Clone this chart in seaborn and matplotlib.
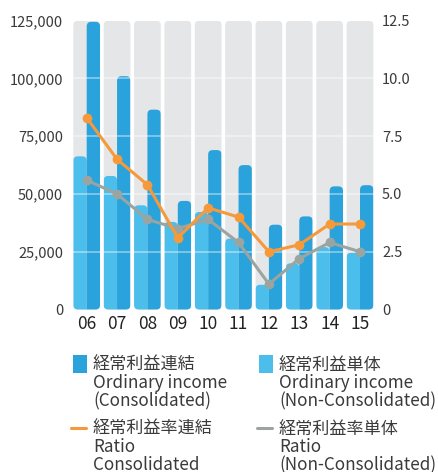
import numpy as np
import pandas as pd
import matplotlib
matplotlib.use("Agg")
import matplotlib.pyplot as plt
from matplotlib.patches import FancyBboxPatch, Rectangle
from matplotlib.lines import Line2D
import seaborn as sns

# データ
years = ["06", "07", "08", "09", "10", "11", "12", "13", "14", "15"]
income_consol = [124500, 101000, 86500, 47000, 69000, 62500, 36700, 40300, 53300, 53800]
income_single = [66300, 57800, 45100, 37900, 42200, 30700, 10700, 20000, 27000, 24600]
ratio_consol = [8.3, 6.5, 5.4, 3.1, 4.4, 4.0, 2.5, 2.8, 3.7, 3.7]
ratio_single = [5.6, 5.0, 3.9, 3.5, 3.9, 2.9, 1.1, 2.2, 2.9, 2.5]
y_max = 125000
r_max = 12.5

c_dark = "#2aa2db"
c_light = "#4bbeeb"
c_bg = "#e5e6e8"
c_orange = "#f5993a"
c_gray = "#9aa5a1"
c_text = "#3a3a3a"

sns.set_style("white")
plt.rcParams["font.family"] = ["Noto Sans CJK JP", "DejaVu Sans"]

W, H = 4.39, 4.72
fig = plt.figure(figsize=(W, H), dpi=100)
ax_pos = [71.5 / 439, 162.5 / 472, 303.7 / 439, 288.8 / 472]
ax = fig.add_axes(ax_pos)

df_bg = pd.DataFrame({"year": years, "value": [y_max] * len(years)})
sns.barplot(data=df_bg, x="year", y="value", color=c_bg, width=0.88,
            saturation=1, ax=ax)
n_bg = len(ax.patches)

df_bar = pd.DataFrame({
    "year": years * 2,
    "value": income_single + income_consol,
    "kind": ["single"] * len(years) + ["consol"] * len(years),
})
sns.barplot(data=df_bar, x="year", y="value", hue="kind",
            hue_order=["single", "consol"],
            palette={"single": c_light, "consol": c_dark},
            width=0.88, saturation=1, legend=False, ax=ax)

ax.set_xlim(-0.5, len(years) - 0.5)
ax.set_ylim(0, y_max)

# 角丸に置き換え
px_x = ax_pos[2] * W * 100 / len(years)     # 1 x-unit in px
px_y = ax_pos[3] * H * 100 / y_max          # 1 y-unit in px
radius_px = 4.5
r_x = radius_px / px_x
aspect = (radius_px / px_y) / r_x

old = list(ax.patches)
bg_patches = {}
for k, p in enumerate(old):
    x, y = p.get_xy()
    w, h = p.get_width(), p.get_height()
    fc = p.get_facecolor()
    p.remove()
    idx = int(round(x + w / 2))
    if k < n_bg:
        fb = FancyBboxPatch((x, y), w, h,
                            boxstyle=f"round,pad=0,rounding_size={r_x}",
                            mutation_aspect=aspect, fc=fc, ec="none", zorder=1)
        ax.add_patch(fb)
        bg_patches[idx] = fb
    else:
        ext = y_max * 0.05
        fb = FancyBboxPatch((x, y - ext), w, h + ext,
                            boxstyle=f"round,pad=0,rounding_size={r_x}",
                            mutation_aspect=aspect, fc=fc, ec="none", zorder=1.5)
        ax.add_patch(fb)
        fb.set_clip_path(bg_patches[idx])

for v in range(25000, y_max, 25000):
    ax.axhline(v, color="white", lw=1.2, alpha=0.45, zorder=2)

ax.set_yticks(range(0, y_max + 1, 25000))
ax.set_yticklabels([f"{v:,}" for v in range(0, y_max + 1, 25000)],
                   fontsize=10.5, color=c_text)
ax.set_xticks(range(len(years)))
ax.set_xticklabels(years, fontsize=12.5, color="#222222")
ax.tick_params(axis="both", length=0)
ax.tick_params(axis="y", pad=6)
ax.tick_params(axis="x", pad=4)
ax.set_xlabel("")
ax.set_ylabel("")
for s in ax.spines.values():
    s.set_visible(False)

# 比率（右軸）
ax2 = ax.twinx()
xpos = np.arange(len(years))
sns.lineplot(x=xpos, y=ratio_single, color=c_gray, lw=2.2, marker="o",
             markersize=7, markeredgewidth=0, ax=ax2, zorder=3)
sns.lineplot(x=xpos, y=ratio_consol, color=c_orange, lw=2.2, marker="o",
             markersize=7, markeredgewidth=0, ax=ax2, zorder=4)
ax2.set_ylim(0, r_max)
ax2.set_xlim(-0.5, len(years) - 0.5)
r_ticks = [0, 2.5, 5.0, 7.5, 10.0, 12.5]
ax2.set_yticks(r_ticks)
ax2.set_yticklabels(["0"] + [f"{t:.1f}" for t in r_ticks[1:]],
                    fontsize=10.5, color=c_text)
ax2.tick_params(axis="y", length=0, pad=5)
for s in ax2.spines.values():
    s.set_visible(False)

# 凡例
def fx(px):
    return px / 439

def fy(py):
    return 1 - py / 472

legend_items = [
    ("box", c_dark, 73, 93, 356,
     ["経常利益連結", "Ordinary income", "(Consolidated)"]),
    ("box", c_light, 259, 279, 356,
     ["経常利益単体", "Ordinary income", "(Non-Consolidated)"]),
    ("line", c_orange, 71, 93, 420,
     ["経常利益率連結", "Ratio", "Consolidated"]),
    ("line", c_gray, 257, 279, 420,
     ["経常利益率単体", "Ratio", "(Non-Consolidated)"]),
]
for kind, col, hx, tx, top, lines in legend_items:
    if kind == "box":
        fig.patches.append(Rectangle((fx(hx), fy(top + 17)), fx(14), 18 / 472,
                                     transform=fig.transFigure, fc=col, ec="none"))
    else:
        fig.lines.append(Line2D([fx(hx), fx(hx + 15)], [fy(top + 8), fy(top + 8)],
                                transform=fig.transFigure, color=col, lw=2.2))
    for j, t in enumerate(lines):
        fig.text(fx(tx), fy(top + 9 + j * 18), t, fontsize=12.3,
                 color=c_text, va="center", ha="left")

fig.savefig("out.png", dpi=100)
